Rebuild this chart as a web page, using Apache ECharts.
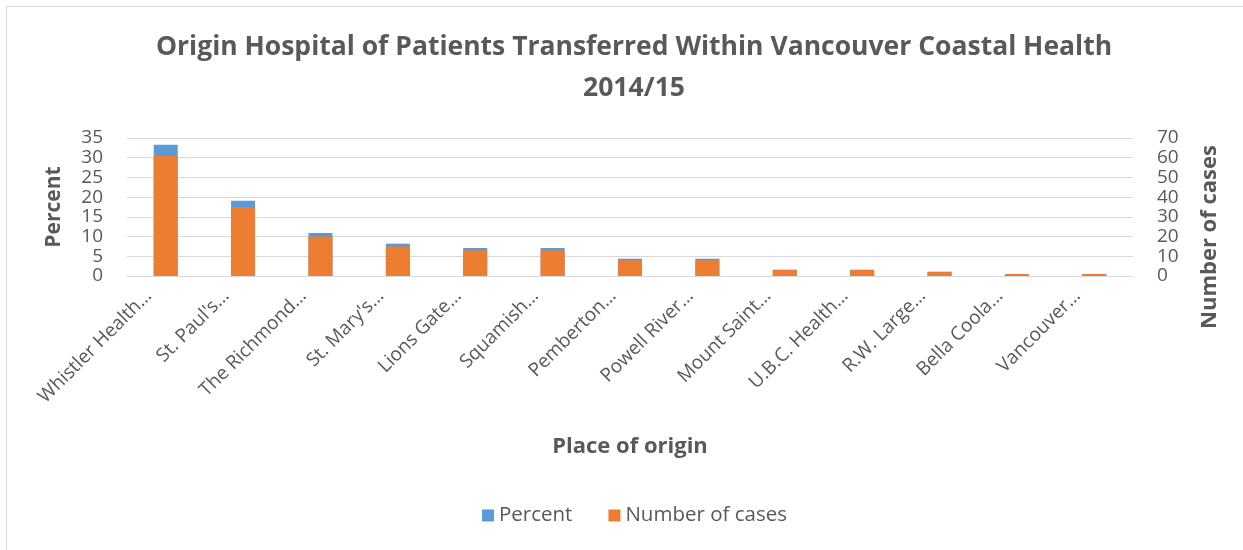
<!DOCTYPE html>
<html>
<head>
<meta charset="utf-8">
<script src="https://cdn.jsdelivr.net/npm/echarts@6/dist/echarts.min.js"></script>
<style>
  html, body { margin: 0; padding: 0; overflow: hidden; background: #fff; }
  #frame { position: absolute; left: 6px; top: 6px; width: 1300px; height: 600px; border: 1px solid #d9d9d9; }
  #chart { position: absolute; left: 0; top: 0; width: 1243px; height: 550px; }
</style>
</head>
<body>
<div id="frame"></div>
<div id="chart"></div>
<script>
// values
const hospitals = ['Whistler Health…', "St. Paul's…", 'The Richmond…', "St. Mary's…", 'Lions Gate…',
  'Squamish…', 'Pemberton…', 'Powell River…', 'Mount Saint…', 'U.B.C. Health…', 'R.W. Large…',
  'Bella Coola…', 'Vancouver…']
const percent = [33.3, 19.1, 10.9, 8.2, 7.1, 7.1, 4.4, 4.4, 1.6, 1.6, 1.1, 0.5, 0.5]
const cases = [61, 35, 20, 15, 13, 13, 8, 8, 3, 3, 2, 1, 1]

const grey = '#595959'
const font = 'Open Sans'

const chart = echarts.init(document.getElementById('chart'))
const option = {
  animation: false,
  textStyle: {fontFamily: font},
  title: {
    text: 'Origin Hospital of Patients Transferred Within Vancouver Coastal Health\n2014/15',
    left: 629,
    textAlign: 'center',
    top: 22,
    textStyle: {fontSize: 26.5, fontWeight: 'bold', color: grey, lineHeight: 41, fontFamily: font}
  },
  legend: {
    bottom: 19,
    left: 477,
    itemWidth: 12,
    itemHeight: 12,
    itemGap: 36,
    icon: 'rect',
    textStyle: {fontSize: 20.5, color: grey, fontFamily: font},
    data: ['Percent', 'Number of cases']
  },
  grid: {left: 127, right: 110, top: 138, bottom: 274},
  xAxis: {
    type: 'category',
    data: hospitals,
    name: 'Place of origin',
    nameLocation: 'middle',
    nameGap: 160,
    nameTextStyle: {fontSize: 22, fontWeight: 'bold', color: grey},
    axisLine: {lineStyle: {color: '#d9d9d9'}},
    axisTick: {show: false},
    axisLabel: {rotate: 45, fontSize: 19, color: grey, margin: 0, interval: 0, padding: [0, 24, 0, 0]}
  },
  yAxis: [
    {
      type: 'value',
      min: 0,
      max: 35,
      interval: 5,
      name: 'Percent',
      nameLocation: 'middle',
      nameRotate: 90,
      nameGap: 62,
      nameTextStyle: {fontSize: 21, fontWeight: 'bold', color: grey},
      axisLabel: {fontSize: 19, color: grey, margin: 24, showMinLabel: true, showMaxLabel: true},
      splitLine: {lineStyle: {color: '#d9d9d9'}}
    },
    {
      type: 'value',
      min: 0,
      max: 70,
      interval: 10,
      name: 'Number of cases',
      nameLocation: 'middle',
      nameRotate: 90,
      nameGap: 66,
      nameTextStyle: {fontSize: 22, fontWeight: 'bold', color: grey, padding: [0, 60, 0, 0]},
      axisLabel: {fontSize: 19, color: grey, margin: 24, showMinLabel: true, showMaxLabel: true},
      splitLine: {show: false}
    }
  ],
  series: [
    {
      name: 'Percent',
      type: 'bar',
      yAxisIndex: 0,
      barWidth: 24,
      barGap: '-100%',
      itemStyle: {color: '#5b9bd5'},
      data: percent
    },
    {
      name: 'Number of cases',
      type: 'bar',
      yAxisIndex: 1,
      barWidth: 24,
      itemStyle: {color: '#ed7d31'},
      data: cases
    }
  ]
}
chart.setOption(option, true)
</script>
</body>
</html>
